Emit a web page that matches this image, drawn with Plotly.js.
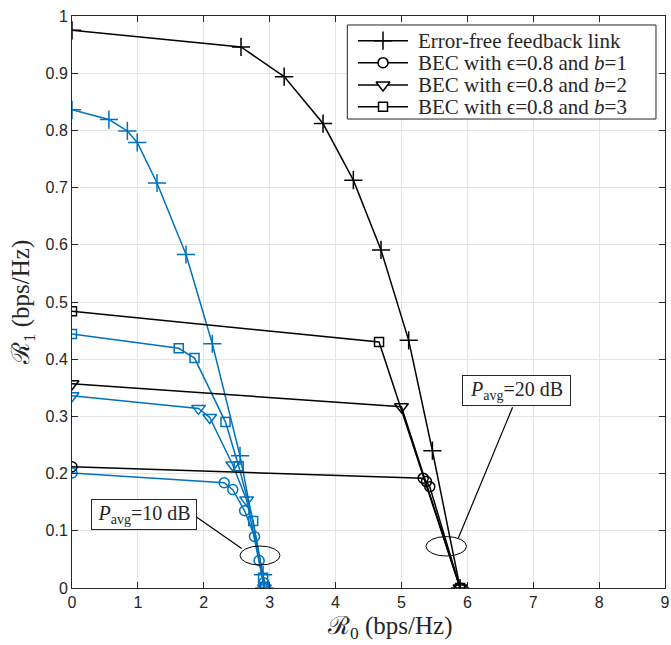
<!DOCTYPE html>
<html>
<head>
<meta charset="utf-8">
<script src="https://cdn.plot.ly/plotly-3.0.1.min.js"></script>
<style>html,body{margin:0;padding:0;background:#fff;}#chart{width:671px;height:645px;}</style>
</head>
<body>
<div id="chart"></div>
<script>
// ---- Data ----
// Pavg = 20 dB (black)
const r0_ef_20 = [0, 2.565, 3.22, 3.81, 4.27, 4.69, 5.11, 5.47, 5.89];
const r1_ef_20 = [0.975, 0.946, 0.894, 0.812, 0.713, 0.591, 0.433, 0.240, 0];
const r0_b1_20 = [0, 5.33, 5.38, 5.43, 5.89];
const r1_b1_20 = [0.212, 0.192, 0.186, 0.177, 0];
const r0_b2_20 = [0, 5.00, 5.89];
const r1_b2_20 = [0.357, 0.317, 0];
const r0_b3_20 = [0, 4.66, 5.89];
const r1_b3_20 = [0.484, 0.430, 0];
// Pavg = 10 dB (blue)
const r0_ef_10 = [0, 0.56, 0.84, 0.99, 1.29, 1.73, 2.13, 2.55, 2.90, 2.92];
const r1_ef_10 = [0.836, 0.819, 0.799, 0.779, 0.708, 0.583, 0.427, 0.231, 0.023, 0];
const r0_b1_10 = [0, 2.31, 2.44, 2.62, 2.77, 2.84, 2.91, 2.92];
const r1_b1_10 = [0.201, 0.184, 0.172, 0.135, 0.090, 0.048, 0.009, 0];
const r0_b2_10 = [0, 1.92, 2.09, 2.44, 2.65, 2.92];
const r1_b2_10 = [0.336, 0.314, 0.298, 0.215, 0.154, 0];
const r0_b3_10 = [0, 1.62, 1.86, 2.33, 2.53, 2.75, 2.90, 2.92];
const r1_b3_10 = [0.444, 0.419, 0.402, 0.290, 0.213, 0.117, 0.018, 0];

const seriesNames = [
  'Error-free feedback link',
  'BEC with ϵ=0.8 and <i>b</i>=1',
  'BEC with ϵ=0.8 and <i>b</i>=2',
  'BEC with ϵ=0.8 and <i>b</i>=3'
];
const xTicks = [0,1,2,3,4,5,6,7,8,9];
const yTicks = [0,0.1,0.2,0.3,0.4,0.5,0.6,0.7,0.8,0.9,1];
const yTickText = ['0','0.1','0.2','0.3','0.4','0.5','0.6','0.7','0.8','0.9','1'];
const xTitle = 'ℛ<sub>0</sub> (bps/Hz)';
const yTitle = 'ℛ<sub>1</sub> (bps/Hz)';

// Callouts: label, box centre, leader line, ellipse centre / radii (data units)
const calloutLabels = ['<i>P</i><sub>avg</sub>=10 dB', '<i>P</i><sub>avg</sub>=20 dB'];
const calloutBox = [[1.088, 0.128], [6.742, 0.3456]];
const calloutLine = [[1.867, 0.126, 2.575, 0.069], [6.687, 0.316, 5.862, 0.087]];
const ellipseC = [[2.853, 0.0568], [5.68, 0.0729]];
const ellipseR = [[0.3035, 0.0166], [0.308, 0.017]];

// ---- Styling ----
const BLACK = '#000000';
const BLUE = '#0072BD';
const symbols = ['cross-thin-open', 'circle-open', 'triangle-down-open', 'square-open'];
const legendSymbols = ['cross-thin-open', 'circle', 'triangle-down', 'square'];
const msize = [13, 10, 12, 9];

function tr(x, y, k, color) {
  return {
    x: x, y: y, type: 'scatter', mode: 'lines+markers',
    name: seriesNames[k], showlegend: false,
    line: {color: color, width: 1.5},
    marker: {symbol: symbols[k], size: msize[k], color: color, line: {color: color, width: 1.5}},
    hoverinfo: 'skip'
  };
}

const data = [
  tr(r0_ef_10, r1_ef_10, 0, BLUE),
  tr(r0_b1_10, r1_b1_10, 1, BLUE),
  tr(r0_b2_10, r1_b2_10, 2, BLUE),
  tr(r0_b3_10, r1_b3_10, 3, BLUE),
  tr(r0_ef_20, r1_ef_20, 0, BLACK),
  tr(r0_b1_20, r1_b1_20, 1, BLACK),
  tr(r0_b2_20, r1_b2_20, 2, BLACK),
  tr(r0_b3_20, r1_b3_20, 3, BLACK)
];

// ---- Legend (drawn on an overlay axis whose range equals the plot area) ----
const legBox = {x0: 0.4643, x1: 0.9848, y0: 0.8199, y1: 0.9843};
const legRowY = [0.9568, 0.9184, 0.8794, 0.8414];
const legLineX = [0.4823, 0.5666];
const legTextX = 0.5801;

data.push({
  x: [legBox.x0, legBox.x1, legBox.x1, legBox.x0, legBox.x0],
  y: [legBox.y0, legBox.y0, legBox.y1, legBox.y1, legBox.y0],
  xaxis: 'x2', yaxis: 'y2', type: 'scatter', mode: 'lines', fill: 'toself',
  fillcolor: '#ffffff', line: {color: '#262626', width: 1}, showlegend: false, hoverinfo: 'skip'
});
for (let k = 0; k < 4; k++) {
  data.push({
    x: [legLineX[0], legLineX[1]], y: [legRowY[k], legRowY[k]],
    xaxis: 'x2', yaxis: 'y2', type: 'scatter', mode: 'lines',
    line: {color: BLACK, width: 1.5}, showlegend: false, hoverinfo: 'skip'
  });
  data.push({
    x: [(legLineX[0] + legLineX[1]) / 2], y: [legRowY[k]],
    xaxis: 'x2', yaxis: 'y2', type: 'scatter', mode: 'markers',
    marker: {symbol: legendSymbols[k], size: msize[k], color: k === 0 ? BLACK : '#ffffff',
      line: {color: BLACK, width: 1.5}},
    showlegend: false, hoverinfo: 'skip'
  });
}

const shapes = [];
const annotations = [];
for (let i = 0; i < 2; i++) {
  shapes.push({type: 'line', xref: 'x', yref: 'y',
    x0: calloutLine[i][0], y0: calloutLine[i][1], x1: calloutLine[i][2], y1: calloutLine[i][3],
    line: {color: '#000', width: 1.2}});
  shapes.push({type: 'circle', xref: 'x', yref: 'y',
    x0: ellipseC[i][0] - ellipseR[i][0], x1: ellipseC[i][0] + ellipseR[i][0],
    y0: ellipseC[i][1] - ellipseR[i][1], y1: ellipseC[i][1] + ellipseR[i][1],
    line: {color: '#000', width: 1}});
  annotations.push({xref: 'x', yref: 'y', x: calloutBox[i][0], y: calloutBox[i][1],
    text: calloutLabels[i], showarrow: false,
    font: {family: 'Liberation Serif, serif', size: 20, color: '#262626'},
    bgcolor: '#ffffff', bordercolor: '#262626', borderwidth: 1, borderpad: 2,
    width: i === 0 ? 100 : 103, height: 25, xanchor: 'center', yanchor: 'middle'});
}
for (let k = 0; k < 4; k++) {
  annotations.push({xref: 'paper', yref: 'paper', x: legTextX, y: legRowY[k],
    text: seriesNames[k], showarrow: false, xanchor: 'left', yanchor: 'middle',
    font: {family: 'Liberation Serif, serif', size: 21, color: '#262626'}});
}
const titleFont = {family: 'Liberation Serif, DejaVu Serif, serif', size: 25, color: '#262626'};
// x-axis title (placed where the reference draws it, slightly right of centre)
annotations.push({xref: 'paper', yref: 'paper', x: 0.536, y: 0, yshift: -56,
  text: xTitle, showarrow: false, xanchor: 'center', yanchor: 'bottom',
  borderpad: 0, font: titleFont});

const axisCommon = {
  showgrid: true, gridcolor: '#e3e3e3', gridwidth: 1,
  zeroline: false, showline: true, linecolor: '#262626', linewidth: 1,
  mirror: 'ticks', ticks: 'inside', ticklen: 6, tickcolor: '#262626', tickwidth: 1,
  tickfont: {family: 'Liberation Sans, Arial, sans-serif', size: 16, color: '#262626'}
};

const layout = {
  width: 671, height: 645,
  margin: {l: 72, r: 6, t: 16, b: 57},
  paper_bgcolor: '#ffffff', plot_bgcolor: '#ffffff',
  showlegend: false,
  xaxis: Object.assign({}, axisCommon, {
    range: [0, 9], tickvals: xTicks, ticktext: xTicks.map(String)
  }),
  yaxis: Object.assign({}, axisCommon, {
    range: [0, 1], tickvals: yTicks, ticktext: yTickText,
    title: {text: yTitle, standoff: 8, font: titleFont}
  }),
  xaxis2: {overlaying: 'x', range: [0, 1], visible: false, fixedrange: true},
  yaxis2: {overlaying: 'y', range: [0, 1], visible: false, fixedrange: true},
  shapes: shapes,
  annotations: annotations
};

Plotly.newPlot('chart', data, layout, {displayModeBar: false, staticPlot: true});
</script>
</body>
</html>
